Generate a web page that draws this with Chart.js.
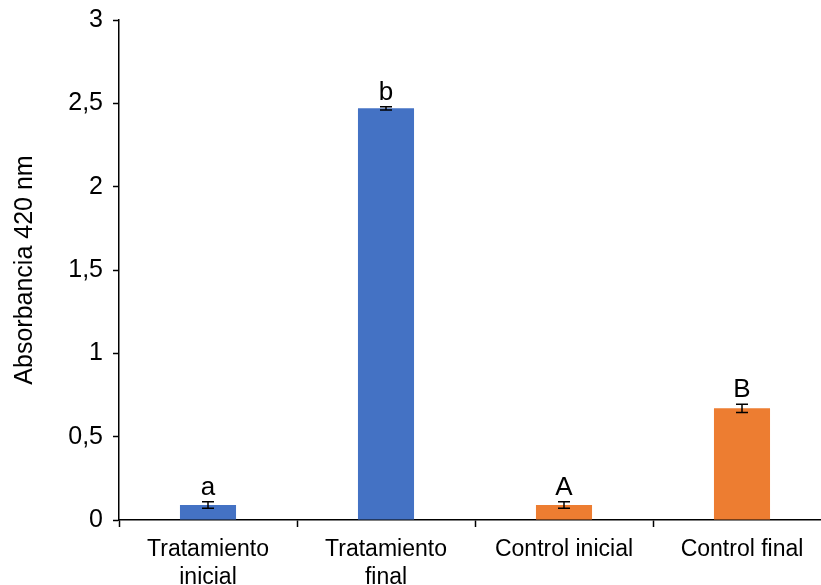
<!DOCTYPE html>
<html>
<head>
<meta charset="utf-8">
<script src="https://cdn.jsdelivr.net/npm/chart.js@4.4.1/dist/chart.umd.min.js"></script>
<style>
  html, body { margin: 0; padding: 0; background: #fff; overflow: hidden; }
  #wrap { width: 821px; height: 585px; overflow: hidden; }
  canvas { display: block; }
</style>
</head>
<body>
<div id="wrap"><canvas id="chart" width="832" height="585"></canvas></div>
<script>
// Absorbance at 420 nm, mean ± error, per treatment group
const categories = [['Tratamiento', 'inicial'], ['Tratamiento', 'final'], ['Control inicial'], ['Control final']];
const absorbance = [0.09, 2.47, 0.09, 0.67];
const errors = [0.02, 0.01, 0.02, 0.025];
const letters = ['a', 'b', 'A', 'B'];
const yTicks = [0, 0.5, 1, 1.5, 2, 2.5, 3];

const BLUE = '#4472C4';
const ORANGE = '#ED7D31';
const barColors = [BLUE, BLUE, ORANGE, ORANGE];
const FONT = 'Liberation Sans, Arial, sans-serif';

// Error bars and significance letters drawn on top of the bars
const errorBarPlugin = {
  id: 'errorBars',
  afterDatasetsDraw(chart) {
    const ctx = chart.ctx;
    const y = chart.scales.y;
    const meta = chart.getDatasetMeta(0);
    ctx.save();
    meta.data.forEach((bar, i) => {
      const v = absorbance[i], e = errors[i];
      const yHi = y.getPixelForValue(v + e);
      const yLo = y.getPixelForValue(v - e);
      const x = bar.x;
      ctx.strokeStyle = '#000';
      ctx.lineWidth = 1.5;
      ctx.beginPath();
      ctx.moveTo(x, yHi); ctx.lineTo(x, yLo);
      ctx.moveTo(x - 6, yHi); ctx.lineTo(x + 6, yHi);
      ctx.moveTo(x - 6, yLo); ctx.lineTo(x + 6, yLo);
      ctx.stroke();
      ctx.fillStyle = '#000';
      ctx.font = '26px ' + FONT;
      ctx.textAlign = 'center';
      ctx.textBaseline = 'alphabetic';
      ctx.fillText(letters[i], x, yHi - 7);
    });
    ctx.restore();
  }
};

new Chart(document.getElementById('chart'), {
  type: 'bar',
  data: {
    labels: categories,
    datasets: [{
      data: absorbance,
      backgroundColor: barColors,
      borderWidth: 0,
      barPercentage: 0.315,
      categoryPercentage: 1
    }]
  },
  options: {
    responsive: false,
    animation: false,
    events: [],
    layout: { padding: { top: 20, right: 1, bottom: 0, left: 0 } },
    plugins: { legend: { display: false }, tooltip: { enabled: false } },
    scales: {
      x: {
        afterFit(scale) { scale.height = 65; },
        grid: {
          offset: true,
          drawOnChartArea: false,
          drawTicks: true,
          tickLength: 7,
          tickWidth: 1.5,
          tickColor: '#000'
        },
        border: { display: true, color: '#000', width: 1.5 },
        ticks: {
          color: '#000',
          font: { family: FONT, size: 23 },
          padding: 9,
          maxRotation: 0,
          autoSkip: false
        }
      },
      y: {
        min: 0,
        max: 3,
        afterFit(scale) {
          scale.width = 119;
          scale.paddingTop = 0;
          scale.paddingBottom = 0;
        },
        afterBuildTicks(scale) { scale.ticks = yTicks.map(v => ({ value: v })); },
        grid: {
          drawOnChartArea: false,
          drawTicks: true,
          tickLength: 6,
          tickWidth: 1.5,
          tickColor: '#000'
        },
        border: { display: true, color: '#000', width: 1.5 },
        ticks: {
          color: '#000',
          font: { family: FONT, size: 25 },
          padding: 10,
          callback: v => String(v).replace('.', ',')
        },
        title: {
          display: true,
          text: 'Absorbancia 420 nm',
          color: '#000',
          font: { family: FONT, size: 25 },
          padding: { top: 10, bottom: 0 }
        }
      }
    }
  },
  plugins: [errorBarPlugin]
});
</script>
</body>
</html>
